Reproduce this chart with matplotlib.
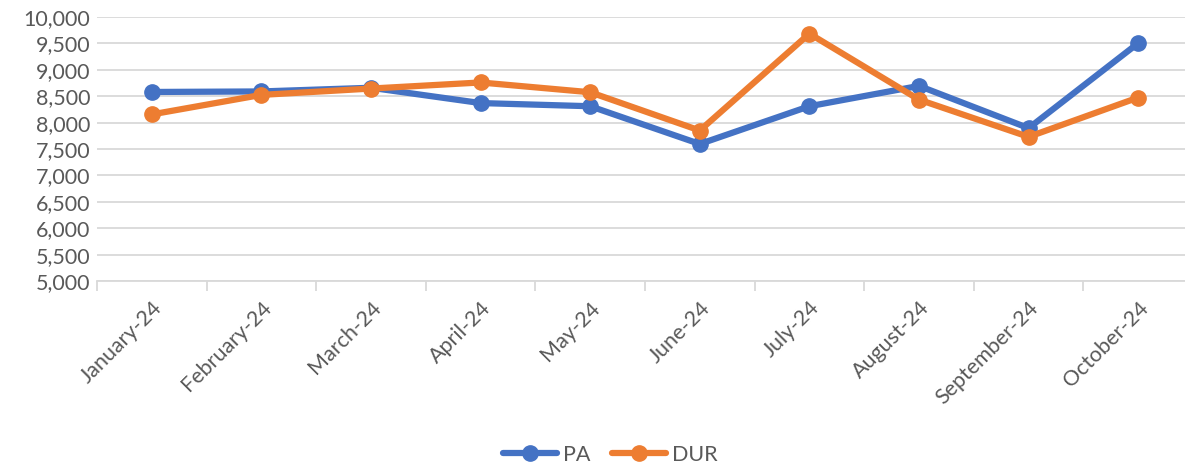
import matplotlib
matplotlib.use("Agg")
import matplotlib.pyplot as plt
from matplotlib.ticker import FuncFormatter, MultipleLocator

months = ["January-24", "February-24", "March-24", "April-24", "May-24",
          "June-24", "July-24", "August-24", "September-24", "October-24"]
pa = [8580, 8590, 8660, 8370, 8310, 7595, 8310, 8695, 7895, 9505]
dur = [8155, 8525, 8645, 8760, 8575, 7850, 9685, 8435, 7730, 8475]

plt.rcParams['font.family'] = ['Lato', 'DejaVu Sans']

fig = plt.figure(figsize=(11.85, 4.68), dpi=100)
ax = fig.add_axes([97/1185, 1 - 281/468, (1193 - 97)/1185, (281 - 17)/468])

x = list(range(len(months)))
ax.plot(x, pa, color="#4472C4", lw=4.5, marker="o", ms=11, label="PA",
        solid_capstyle="round", zorder=3)
ax.plot(x, dur, color="#ED7D31", lw=4.5, marker="o", ms=11, label="DUR",
        solid_capstyle="round", zorder=4)

ax.set_xlim(-0.5, len(months) - 0.5)
ax.set_ylim(5000, 10000)
ax.yaxis.set_major_locator(MultipleLocator(500))
ax.yaxis.set_major_formatter(FuncFormatter(lambda v, p: f"{int(v):,}"))
ax.grid(axis="y", color="#D9D9D9", lw=1.3)
ax.set_axisbelow(True)

for s in ["top", "right", "left"]:
    ax.spines[s].set_visible(False)
ax.spines["bottom"].set_color("#D9D9D9")
ax.spines["bottom"].set_linewidth(1.3)

ax.set_xticks([i - 0.5 for i in range(len(months) + 1)], minor=False)
ax.set_xticklabels([])
ax.tick_params(axis="x", which="major", length=7, width=1.3, color="#D9D9D9")
ax.set_xticks(x, minor=True)
ax.set_xticklabels(months, minor=True, rotation=45, ha="right",
                   rotation_mode="anchor", fontsize=15.5, color="#595959")
ax.tick_params(axis="x", which="minor", length=0, pad=12)
ax.tick_params(axis="y", length=0, labelsize=15.5, labelcolor="#595959", pad=5)

leg = fig.legend(loc="center", bbox_to_anchor=(0.515, 1 - 455/468),
                 ncol=2, frameon=False, fontsize=15.5, handlelength=2.5,
                 columnspacing=1.0, handletextpad=0.3)
for t in leg.get_texts():
    t.set_color("#595959")

fig.savefig("out.png", dpi=100)
